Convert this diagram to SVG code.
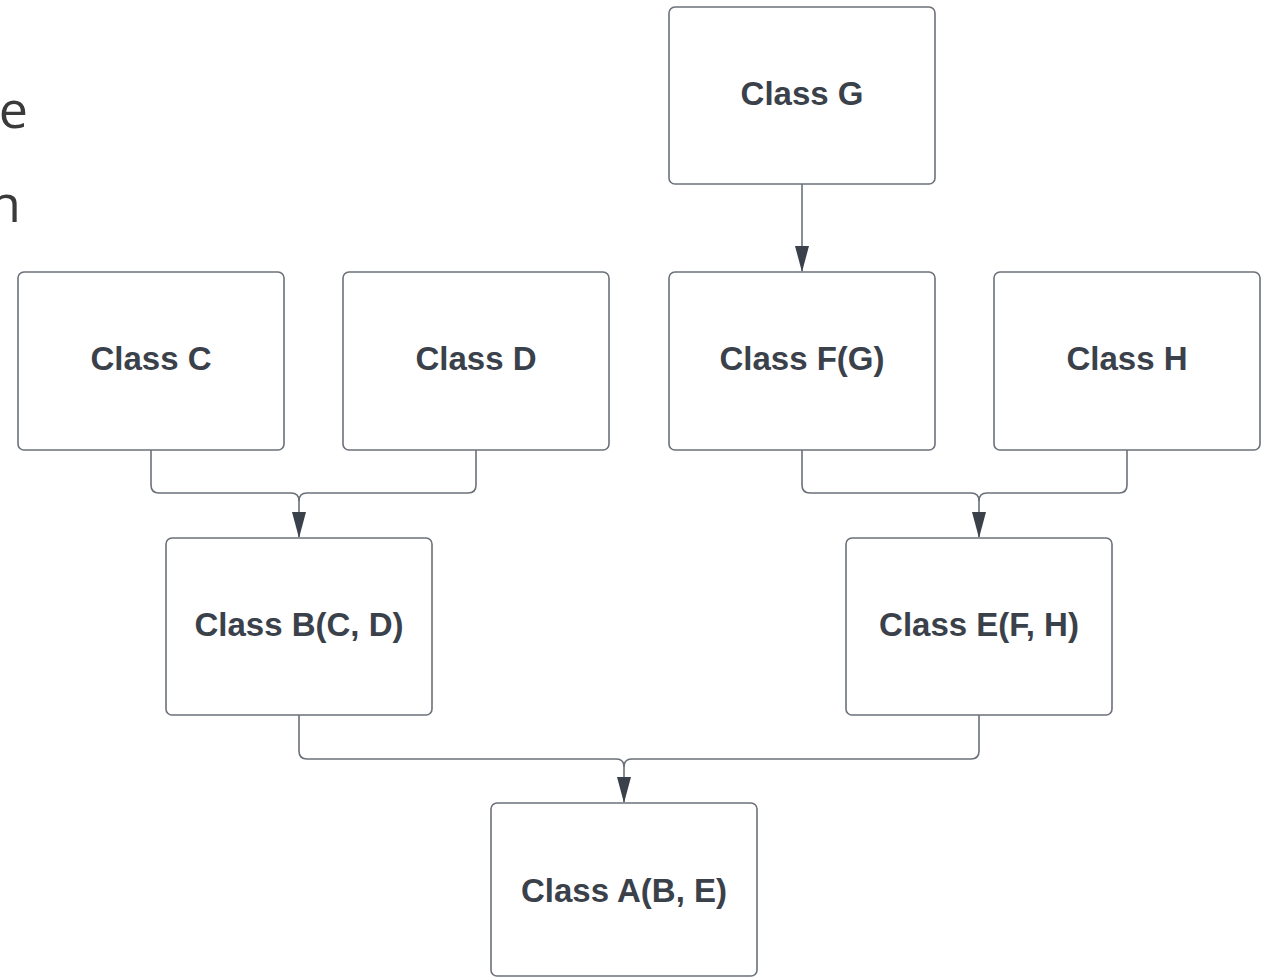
<svg xmlns="http://www.w3.org/2000/svg" width="1271" height="978" viewBox="0 0 1271 978">
<style>
.box{fill:#ffffff;stroke:#6b7079;stroke-width:1.6}
.lbl{font-family:"Liberation Sans",Arial,sans-serif;font-weight:bold;font-size:33px;fill:#3a414a;text-anchor:middle}
.frag{font-family:"Open Sans","Noto Sans",sans-serif;font-size:52px;fill:#3a3a3a;text-anchor:end}
.con{fill:none;stroke:#6b7079;stroke-width:1.6}
</style>
<defs>
<marker id="arr" markerUnits="userSpaceOnUse" markerWidth="26" markerHeight="14" refX="25" refY="7" orient="auto">
<path d="M0,0 L26,7 L0,14 Z" fill="#3a414a"/>
</marker>
</defs>
<rect width="1271" height="978" fill="#ffffff"/>
<text class="frag" x="28" y="128">e</text>
<text class="frag" x="21" y="222">n</text>
<g id="connectors">
<path class="con" d="M802,184 V271" marker-end="url(#arr)"/>
<path class="con" d="M151,450 V485 Q151,493 159,493 H291 Q299,493 299,501 V537" marker-end="url(#arr)"/>
<path class="con" d="M476,450 V485 Q476,493 468,493 H307 Q299,493 299,501"/>
<path class="con" d="M802,450 V485 Q802,493 810,493 H971 Q979,493 979,501 V537" marker-end="url(#arr)"/>
<path class="con" d="M1127,450 V485 Q1127,493 1119,493 H987 Q979,493 979,501"/>
<path class="con" d="M299,715 V751 Q299,759 307,759 H616 Q624,759 624,767 V802" marker-end="url(#arr)"/>
<path class="con" d="M979,715 V751 Q979,759 971,759 H632 Q624,759 624,767"/>
</g>
<g id="nodeG"><rect class="box" x="669" y="7" width="266" height="177" rx="6"/><text class="lbl" x="802" y="105">Class G</text></g>
<g id="nodeC"><rect class="box" x="18" y="272" width="266" height="178" rx="6"/><text class="lbl" x="151" y="370">Class C</text></g>
<g id="nodeD"><rect class="box" x="343" y="272" width="266" height="178" rx="6"/><text class="lbl" x="476" y="370">Class D</text></g>
<g id="nodeF"><rect class="box" x="669" y="272" width="266" height="178" rx="6"/><text class="lbl" x="802" y="370">Class F(G)</text></g>
<g id="nodeH"><rect class="box" x="994" y="272" width="266" height="178" rx="6"/><text class="lbl" x="1127" y="370">Class H</text></g>
<g id="nodeB"><rect class="box" x="166" y="538" width="266" height="177" rx="6"/><text class="lbl" x="299" y="636">Class B(C, D)</text></g>
<g id="nodeE"><rect class="box" x="846" y="538" width="266" height="177" rx="6"/><text class="lbl" x="979" y="636">Class E(F, H)</text></g>
<g id="nodeA"><rect class="box" x="491" y="803" width="266" height="173" rx="6"/><text class="lbl" x="624" y="902">Class A(B, E)</text></g>
</svg>
